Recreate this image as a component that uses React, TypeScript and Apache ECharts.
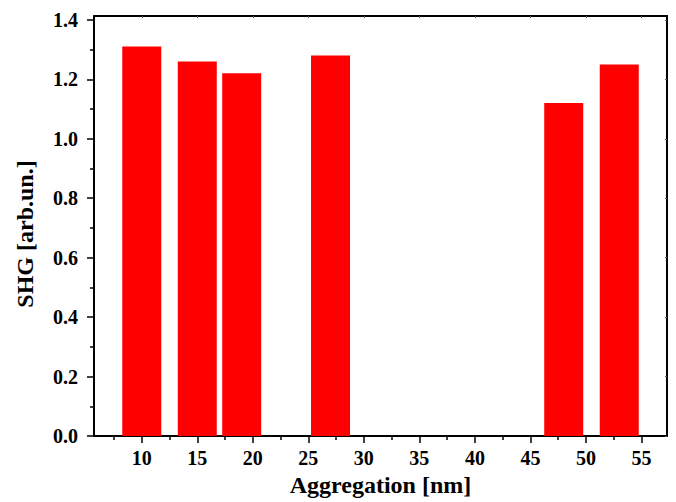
import React, { useEffect, useRef } from "react";
import * as echarts from "echarts";

const sizes = [10, 15, 19, 27, 48, 53];
const shg = [1.31, 1.26, 1.22, 1.28, 1.12, 1.25];
const xTicks = [10, 15, 20, 25, 30, 35, 40, 45, 50, 55];
const xMinorTicks = [7.5, 12.5, 17.5, 22.5, 27.5, 32.5, 37.5, 42.5, 47.5, 52.5];
const yTicks = [0, 0.2, 0.4, 0.6, 0.8, 1.0, 1.2, 1.4];
const yMinorTicks = [0.1, 0.3, 0.5, 0.7, 0.9, 1.1, 1.3];
const xTitle = "Aggregation [nm]";
const yTitle = "SHG [arb.un.]";

const X_MIN = 5.7;
const X_MAX = 57.3;
const Y_MIN = 0;
const Y_MAX = 1.413;

const FONT = "'Liberation Serif', 'Times New Roman', serif";
const lineStyle = { color: "#000", width: 2 };

export default function App() {
  const ref = useRef<HTMLDivElement>(null);

  useEffect(() => {
    if (!ref.current) return;
    const chart = echarts.init(ref.current, null, { renderer: "svg" });
    const baseX = { type: "value", min: X_MIN, max: X_MAX, splitLine: { show: false } };
    const baseY = { type: "value", min: Y_MIN, max: Y_MAX, splitLine: { show: false } };
    chart.setOption({
      animation: false,
      backgroundColor: "#fff",
      grid: { left: 94, right: 9, top: 16, bottom: 63, containLabel: false },
      xAxis: [
        {
          ...baseX,
          position: "bottom",
          axisLine: { show: true, onZero: false, lineStyle },
          axisTick: { show: true, inside: false, length: 7, lineStyle: { color: "#000", width: 1.5 }, customValues: xTicks },
          axisLabel: {
            show: true,
            customValues: xTicks,
            margin: 12,
            color: "#000",
            fontFamily: FONT,
            fontWeight: "bold",
            fontSize: 20,
            formatter: (v: number) => String(v),
          },
          name: xTitle,
          nameLocation: "middle",
          nameGap: 37,
          nameTextStyle: { color: "#000", fontFamily: FONT, fontWeight: "bold", fontSize: 24 },
        },
        {
          ...baseX,
          position: "bottom",
          axisLine: { show: false, onZero: false },
          axisTick: { show: true, inside: false, length: 4, lineStyle: { color: "#000", width: 1.5 }, customValues: xMinorTicks },
          axisLabel: { show: false },
        },
        {
          ...baseX,
          position: "top",
          axisLine: { show: true, onZero: false, lineStyle },
          axisTick: { show: true, inside: true, length: 2, lineStyle: { color: "#555", width: 1 }, customValues: xTicks },
          axisLabel: { show: false },
        },
      ],
      yAxis: [
        {
          ...baseY,
          position: "left",
          axisLine: { show: true, onZero: false, lineStyle },
          axisTick: { show: true, inside: false, length: 7, lineStyle: { color: "#000", width: 1.5 }, customValues: yTicks },
          axisLabel: {
            show: true,
            customValues: yTicks,
            margin: 16,
            color: "#000",
            fontFamily: FONT,
            fontWeight: "bold",
            fontSize: 20,
            formatter: (v: number) => v.toFixed(1),
          },
        },
        {
          ...baseY,
          position: "left",
          axisLine: { show: false, onZero: false },
          axisTick: { show: true, inside: false, length: 4, lineStyle: { color: "#000", width: 1.5 }, customValues: yMinorTicks },
          axisLabel: { show: false },
        },
        {
          ...baseY,
          position: "right",
          axisLine: { show: true, onZero: false, lineStyle },
          axisTick: { show: true, inside: true, length: 2, lineStyle: { color: "#555", width: 1 }, customValues: yTicks },
          axisLabel: { show: false },
        },
      ],
      graphic: [
        {
          type: "text",
          x: 25,
          y: 234,
          rotation: Math.PI / 2,
          style: {
            text: yTitle,
            fill: "#000",
            font: `bold 24px ${FONT}`,
            align: "center",
            verticalAlign: "middle",
          },
        },
      ],
      series: [
        {
          type: "bar",
          xAxisIndex: 0,
          yAxisIndex: 0,
          barWidth: 39,
          itemStyle: { color: "#ff0000" },
          data: sizes.map((s, i) => [s, shg[i]]),
        },
      ],
    });
    return () => chart.dispose();
  }, []);

  return (
    <div
      ref={ref}
      style={{ position: "fixed", left: 0, top: 0, width: 676, height: 502, background: "#fff" }}
    />
  );
}
